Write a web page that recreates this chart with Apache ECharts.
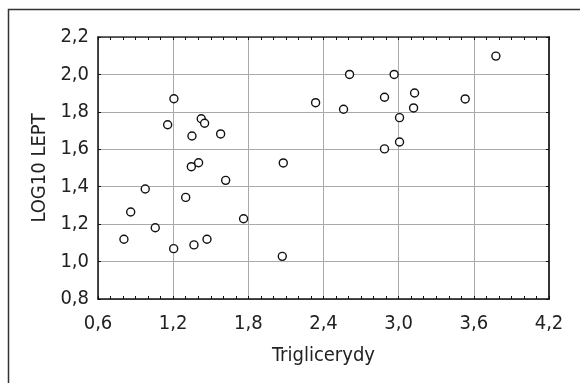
<!DOCTYPE html>
<html>
<head>
<meta charset="utf-8">
<script src="https://cdn.jsdelivr.net/npm/echarts@6/dist/echarts.min.js"></script>
<style>
  html, body { margin: 0; padding: 0; background: #fff; }
  #chart { width: 580px; height: 383px; }
</style>
</head>
<body>
<div id="chart"></div>
<script>
// values
var triglicerydy = [1.206, 1.156, 1.424, 1.451, 1.35, 1.579, 1.345, 1.403, 1.619, 2.079, 0.977,
  1.30, 0.861, 1.057, 0.807, 1.204, 1.366, 1.47, 1.762, 2.071,
  2.337, 2.56, 2.608, 2.964, 2.887, 3.127, 3.119, 3.007, 3.007, 2.887, 3.531, 3.776];
var logLept = [1.87, 1.731, 1.763, 1.739, 1.671, 1.682, 1.507, 1.528, 1.434, 1.527, 1.388,
  1.343, 1.265, 1.181, 1.119, 1.069, 1.089, 1.119, 1.229, 1.028,
  1.849, 1.814, 2.0, 2.0, 1.878, 1.901, 1.821, 1.769, 1.639, 1.602, 1.869, 2.098];

var xMin = 0.6, xMax = 4.2, xStep = 0.6;
var yMin = 0.8, yMax = 2.2, yStep = 0.2;

var FONT = "'DejaVu Sans Condensed', 'Liberation Sans Narrow', sans-serif";
var points = triglicerydy.map(function (x, i) { return [x, logLept[i]]; });

function comma(v, d) { return v.toFixed(d).replace('.', ','); }

var chart = echarts.init(document.getElementById('chart'));
var option = {
  animation: false,
  grid: { left: 98, top: 37, right: 31, bottom: 84 },
  graphic: [{
    type: 'rect',
    shape: { x: 8.5, y: 9.5, width: 700, height: 500 },
    style: { fill: 'none', stroke: '#333', lineWidth: 1.5 },
    silent: true
  }],
  xAxis: [{
    type: 'value', min: xMin, max: xMax, interval: xStep,
    name: 'Triglicerydy', nameLocation: 'middle', nameGap: 47,
    nameTextStyle: { fontFamily: FONT, fontSize: 20, color: '#222' },
    axisLine: { lineStyle: { color: '#111', width: 1.5 } },
    axisTick: { show: true, inside: true, length: 3, lineStyle: { color: '#111' } },
    minorTick: { show: true, splitNumber: 6, length: 3, lineStyle: { color: '#111' } },
    axisLabel: { fontFamily: FONT, fontSize: 20, color: '#222', margin: 15,
      formatter: function (v) { return comma(v, 1); } },
    splitLine: { show: true, lineStyle: { color: '#aaa', width: 1 } }
  }, {
    type: 'value', position: 'top', min: xMin, max: xMax, interval: xStep,
    axisLine: { show: true, lineStyle: { color: '#333', width: 1.5 } },
    axisTick: { show: true, inside: true, length: 3, lineStyle: { color: '#111' } },
    minorTick: { show: true, splitNumber: 6, length: 3, lineStyle: { color: '#111' } },
    axisLabel: { show: false }, splitLine: { show: false }
  }],
  yAxis: [{
    type: 'value', min: yMin, max: yMax, interval: yStep,
    name: 'LOG10 LEPT', nameLocation: 'middle', nameGap: 46,
    nameTextStyle: { fontFamily: FONT, fontSize: 20, color: '#222' },
    axisLine: { show: true, lineStyle: { color: '#111', width: 1.5 } },
    axisTick: { show: true, inside: true, length: 3, lineStyle: { color: '#111' } },
    axisLabel: { fontFamily: FONT, fontSize: 20, color: '#222', margin: 9,
      formatter: function (v) { return comma(v, 1); } },
    splitLine: { show: true, lineStyle: { color: '#aaa', width: 1 } }
  }, {
    type: 'value', position: 'right', min: yMin, max: yMax, interval: yStep,
    axisLine: { show: true, lineStyle: { color: '#333', width: 2 } },
    axisTick: { show: true, inside: true, length: 3, lineStyle: { color: '#111' } },
    axisLabel: { show: false }, splitLine: { show: false }
  }],
  series: [{
    type: 'scatter',
    data: points,
    symbol: 'circle',
    symbolSize: 8,
    itemStyle: { color: '#fff', borderColor: '#111', borderWidth: 1.4, opacity: 1 }
  }]
};
chart.setOption(option);
</script>
</body>
</html>
